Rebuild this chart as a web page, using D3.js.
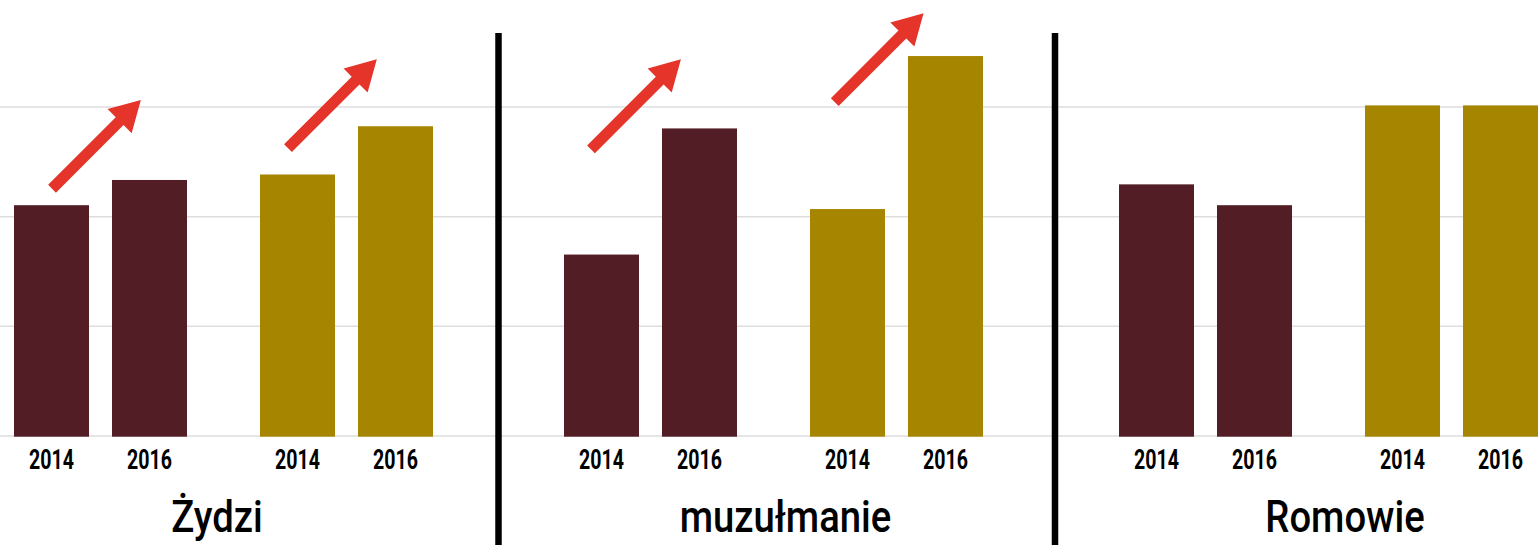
<!DOCTYPE html>
<html><head><meta charset="utf-8">
<script src="https://cdn.jsdelivr.net/npm/d3@7"></script>
<style>html,body{margin:0;padding:0;background:#fff;overflow:hidden}</style>
</head><body>
<svg id="chart" width="1538" height="545"></svg>
<script>
// ---- data ----
const groups = ["Żydzi", "muzułmanie", "Romowie"];
const seriesNames = ["seria1", "seria2"];
const years = ["2014", "2016"];
const series1Values = [[21.0, 23.3], [16.5, 28.0], [22.9, 21.0]];
const series2Values = [[23.8, 28.2], [20.65, 34.6], [30.1, 30.1]];
const gridTicks = [0, 10, 20, 30];
// arrows: group, series, start value, end value, tail position within first bar
const arrowGroup = ["Żydzi", "Żydzi", "muzułmanie", "muzułmanie"];
const arrowSeries = ["seria1", "seria2", "seria1", "seria2"];
const arrowFrom = [22.5, 26.2, 26.1, 30.4];
const arrowTo = [30.6, 34.3, 34.3, 38.5];
const arrowTail = [0.507, 0.373, 0.36, 0.33];
const labelNudge = [-6.5, 12, 16.5];

// ---- layout ----
const W = 1538, H = 545;
const colors = {seria1: "#521d24", seria2: "#a68600"};
const svg = d3.select("#chart");

const xGroup = d3.scaleBand().domain(groups).range([14, 14 + 3 * 552.5]);
const groupShift = [0, -2.5, 0];
const gx = g => xGroup(g) + groupShift[groups.indexOf(g)];
const xSeries = d3.scaleBand().domain(seriesNames).range([0, 492]);
const xYear = d3.scaleBand().domain(years).range([0, 173]).paddingInner(23 / 98);
const y = d3.scaleLinear().domain([0, 30]).range([435.5, 106.5]);

const bars = [];
groups.forEach((g, gi) => {
  [series1Values, series2Values].forEach((vals, si) => {
    years.forEach((yr, yi) => {
      bars.push({group: g, series: seriesNames[si], year: yr, value: vals[gi][yi]});
    });
  });
});
const barX = d => gx(d.group) + xSeries(d.series) + xYear(d.year);

// gridlines
const gridAxis = d3.axisRight(y).tickValues(gridTicks).tickSize(W).tickFormat("");
const gAxis = svg.append("g").call(gridAxis);
gAxis.select(".domain").remove();
gAxis.selectAll(".tick line").attr("stroke", "#dedede").attr("stroke-width", 1.5);

// bars
svg.append("g").selectAll("rect").data(bars).join("rect")
  .attr("x", barX)
  .attr("y", d => y(d.value))
  .attr("width", xYear.bandwidth())
  .attr("height", d => y(0) + 1.2 - y(d.value))
  .attr("fill", d => colors[d.series]);

// year labels
svg.append("g").selectAll("text").data(bars).join("text")
  .attr("transform", d => `translate(${barX(d) + xYear.bandwidth() / 2},468.5) scale(0.7,1)`)
  .attr("text-anchor", "middle")
  .attr("font-family", "Roboto, 'Noto Sans', sans-serif")
  .attr("font-weight", 700)
  .attr("font-size", 28)
  .attr("fill", "#000")
  .text(d => d.year);

// group labels
const groupWidth = xSeries(seriesNames[1]) + xYear(years[1]) + xYear.bandwidth();
svg.append("g").selectAll("text").data(groups).join("text")
  .attr("transform", (g, i) => `translate(${gx(g) + groupWidth / 2 + labelNudge[i]},531.5) scale(0.85,1)`)
  .attr("text-anchor", "middle")
  .attr("font-family", "Roboto, 'Noto Sans', sans-serif")
  .attr("font-weight", 500)
  .attr("font-size", 45)
  .attr("fill", "#000")
  .text(g => g);

// separators
const sepX = [498.5, 1055];
svg.append("g").selectAll("line").data(sepX).join("line")
  .attr("x1", d => d).attr("x2", d => d)
  .attr("y1", 33).attr("y2", H)
  .attr("stroke", "#000").attr("stroke-width", 6.5);

// arrows
const arrows = arrowGroup.map((g, i) => ({group: g, series: arrowSeries[i], from: arrowFrom[i], to: arrowTo[i], tail: arrowTail[i]}));
function arrowPath(d) {
  const tx = gx(d.group) + xSeries(d.series) + xYear(years[0]) + d.tail * xYear.bandwidth();
  const ty = y(d.from);
  const py = y(d.to);
  const px = tx + (ty - py);
  const len = Math.hypot(px - tx, py - ty);
  const ux = (px - tx) / len, uy = (py - ty) / len;
  const nx = -uy, ny = ux;
  const sw = 11 / 2, hw = 34 / 2, hl = 30;
  const bx = px - ux * hl, by = py - uy * hl;
  const pts = [
    [tx + nx * sw, ty + ny * sw],
    [bx + nx * sw, by + ny * sw],
    [bx + nx * hw, by + ny * hw],
    [px, py],
    [bx - nx * hw, by - ny * hw],
    [bx - nx * sw, by - ny * sw],
    [tx - nx * sw, ty - ny * sw]
  ];
  return "M" + pts.map(p => p.join(",")).join("L") + "Z";
}
svg.append("g").selectAll("path").data(arrows).join("path")
  .attr("d", arrowPath)
  .attr("fill", "#e5352a");
</script>
</body></html>
